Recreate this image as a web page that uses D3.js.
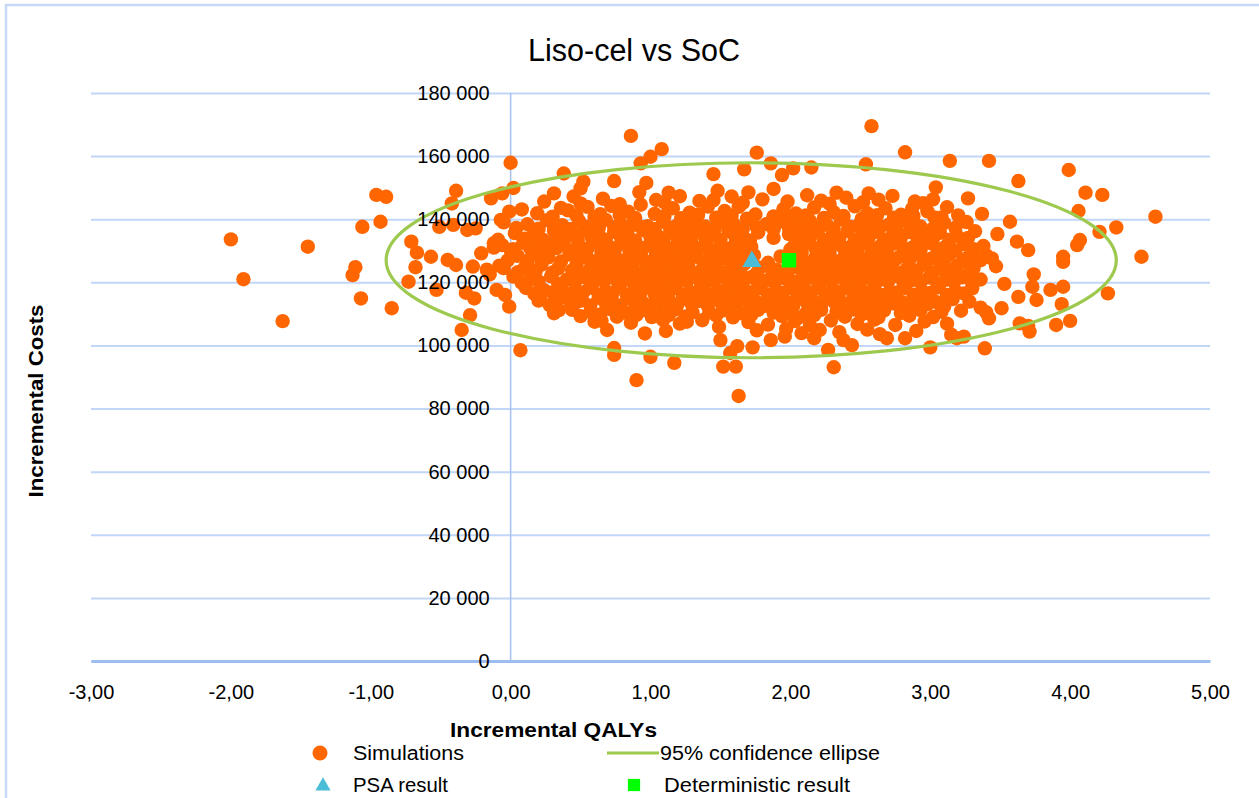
<!DOCTYPE html>
<html>
<head>
<meta charset="utf-8">
<script src="https://cdn.jsdelivr.net/npm/d3@7/dist/d3.min.js"></script>
<style>
  body { margin: 0; background: #fff; }
  svg text { font-family: "Liberation Sans", Arial, sans-serif; fill: #000; }
</style>
</head>
<body>
<div id="viz"></div>
<script>
// incremental QALYs, incremental costs (thousands)
var outliers = [
  [-2.00,133.6],[-1.91,121.0],[-1.63,107.7],[-1.45,131.3],[-1.13,122.3],[-1.11,124.8],[-1.07,114.9],[-1.06,137.6],
  [-0.96,147.7],[-0.89,147.1],[-0.93,139.2],[-0.85,111.8],[-0.71,132.9],[-0.67,129.4],[-0.68,124.8],[-0.73,120.2],
  [-0.57,128.1],[-0.53,117.6],[-0.51,137.6],[-0.45,127.1],[-0.39,125.5],[-0.39,149.0],[-0.42,145.0],[-0.41,138.2],
  [-0.29,109.6],[-0.35,104.9],[-0.32,116.7],[-0.26,114.9],[-0.27,125.0],[-0.21,129.2],[-0.31,136.6],[-0.25,137.1],
  [-0.14,146.6],[-0.06,148.2],[0.02,149.9],[0.00,157.9],[-0.17,124.0],[-0.15,122.5],[-0.10,117.6],[-0.04,116.0],
  [-0.01,112.3],[0.07,98.5],[-0.12,132.4],[-0.07,139.8],[-0.01,142.4],[0.02,130.5],[-0.02,127.0],[-0.05,124.5],
  [-0.12,131.0],[-0.09,133.5],
  [0.86,166.4],[1.08,162.2],[1.00,159.8],[0.93,157.7],[0.38,154.5],[1.76,161.1],[1.86,157.7],[2.02,156.1],
  [2.15,156.4],[1.94,154.0],[1.67,155.8],[1.45,154.3],[0.90,89.0],[1.63,84.0],[1.17,94.5],[1.00,96.4],
  [0.74,97.0],[0.74,99.2],[0.96,103.8],[0.69,104.9],[1.50,101.7],[1.57,97.6],[1.52,93.3],[1.61,93.3],
  [1.62,99.8],[1.73,99.4],[1.86,101.7],[1.96,102.8],[1.49,105.9],[0.31,110.2],[0.345,111.2],[0.48,113.9],
  [0.60,107.5],[0.21,115.4],[1.26,107.5],[1.42,110.4],[1.04,146.1],[1.13,148.4],[0.74,152.1],[0.52,151.9],
  [0.50,149.8],[0.24,145.6],[0.31,148.2],[0.36,143.6],[0.30,132.9],
  [2.58,169.5],[2.82,161.2],[3.14,158.5],[3.42,158.5],[3.99,155.6],[3.63,152.1],[2.54,157.4],[4.11,148.4],
  [4.23,147.7],[4.06,142.6],[4.61,140.8],[4.33,137.4],[4.21,136.0],[4.07,133.4],[4.05,131.8],[4.51,128.1],
  [3.95,128.1],[3.95,126.5],[4.27,116.5],[3.95,118.6],[3.86,117.6],[3.94,113.1],[4.00,107.8],[3.90,106.5],
  [3.71,104.4],[3.70,106.2],[3.64,107.0],[3.76,114.4],[3.74,122.5],[3.73,118.6],[3.63,115.4],[3.70,130.2],
  [3.62,132.9],[3.57,139.2],[3.48,135.3],[3.37,141.7],[3.39,99.1],[3.00,99.4],[3.19,102.3],[3.24,102.8],
  [2.31,93.1],[2.27,98.6],[2.38,101.7],[2.44,100.1],[2.69,102.3],[2.82,102.3],[2.17,102.3],[3.04,150.1],
  [3.02,146.3],[2.89,145.6],[3.27,146.6],[2.56,148.2],[2.33,148.4],[3.44,127.6],[3.53,119.5],[3.51,111.8],
  [3.42,108.6],[3.36,112.0],[3.40,110.5],[3.03,140.6]
];

var core = [
  [0.45,147.2],[0.66,146.5],[0.92,148.6],[0.97,151.5],[1.21,147.3],[1.35,145.8],[1.48,149.0],[1.58,147.2],
  [1.70,148.5],[1.80,146.3],[1.88,149.6],[2.12,147.6],[2.22,145.9],[2.40,146.8],[2.63,146.2],[2.73,147.4],
  [2.87,143.3],[3.12,143.8],
  [0.08,143.1],[0.19,141.9],[0.41,142.8],[0.55,143.9],[0.64,141.6],[0.72,144.2],[0.84,142.4],[0.93,144.6],
  [1.03,141.7],[1.16,143.5],[1.28,142.1],[1.41,144.0],[1.53,142.6],[1.63,143.9],[1.75,141.5],[1.95,143.2],
  [2.04,141.8],[2.17,143.7],[2.31,142.2],[2.46,144.1],[2.55,141.9],[2.68,143.5],[2.79,141.4],[2.98,142.5],
  [3.20,141.2],
  [-0.05,139.0],[0.12,138.4],[0.26,139.7],[0.37,138.1],[0.49,139.4],[0.58,137.9],[0.68,139.8],[0.79,138.3],
  [0.88,139.6],[0.98,137.8],[1.09,139.2],[1.19,138.0],[1.30,139.5],[1.39,137.7],[1.51,139.1],[1.60,138.2],
  [1.71,139.8],[1.83,138.5],[1.93,139.3],[2.06,137.6],[2.14,139.5],[2.26,138.3],[2.36,139.9],[2.48,137.9],
  [2.59,139.1],[2.70,138.2],[2.82,139.6],[2.93,137.7],[3.10,138.8],[3.26,139.1],
  [0.03,135.6],[0.16,134.9],[0.31,136.2],[0.44,135.1],[0.53,136.4],[0.63,134.8],[0.74,136.0],[0.83,135.2],
  [0.95,136.5],[1.05,134.7],[1.14,135.9],[1.24,134.6],[1.34,136.3],[1.45,135.0],[1.56,136.1],[1.66,134.5],
  [1.77,135.8],[1.99,135.3],[2.09,134.6],[2.19,136.2],[2.30,135.0],[2.41,136.3],[2.51,134.9],[2.62,136.0],
  [2.73,134.7],[2.85,135.9],[2.96,134.5],[3.07,135.7],[3.19,134.8],[3.32,136.2],
  [-0.06,131.8],[0.09,132.5],[0.21,131.3],[0.38,132.2],[0.50,131.0],[0.60,132.7],[0.70,131.4],[0.80,132.6],
  [0.90,131.1],[1.00,132.3],[1.10,131.5],[1.20,132.8],[1.29,131.2],[1.40,132.4],[1.50,131.0],[1.61,132.5],
  [1.72,131.3],[2.03,131.7],[2.13,132.6],[2.23,131.1],[2.33,132.4],[2.43,131.2],[2.53,132.7],[2.64,131.4],
  [2.75,132.3],[2.87,131.0],[2.99,132.5],[3.11,131.3],[3.24,132.1],[3.38,131.5],
  [0.05,128.4],[0.17,129.1],[0.27,127.9],[0.42,128.8],[0.55,127.7],[0.65,129.2],[0.75,128.0],[0.85,129.0],
  [0.94,127.6],[1.04,128.9],[1.13,127.8],[1.23,129.3],[1.33,128.1],[1.43,129.1],[1.53,127.6],[1.63,128.8],
  [1.74,128.6],[1.93,128.2],[2.08,129.3],[2.18,127.9],[2.28,128.9],[2.38,127.7],[2.48,129.2],[2.57,128.0],
  [2.67,129.0],[2.77,127.8],[2.89,128.7],[3.01,127.6],[3.14,128.9],[3.27,127.9],[3.40,128.6],
  [-0.08,125.3],[0.10,124.6],[0.22,125.6],[0.34,124.4],[0.47,125.4],[0.57,124.3],[0.67,125.7],[0.77,124.5],
  [0.87,125.5],[0.97,124.2],[1.07,125.6],[1.17,124.4],[1.27,125.3],[1.37,124.1],[1.47,125.5],[1.57,124.3],
  [1.67,125.8],[1.78,124.6],[1.90,124.0],[2.02,124.9],[2.12,125.8],[2.22,124.4],[2.32,125.5],[2.42,124.2],
  [2.52,125.6],[2.62,124.5],[2.72,125.4],[2.83,124.1],[2.95,125.5],[3.07,124.3],[3.19,125.2],[3.31,124.6],
  [3.47,125.1],
  [0.02,121.8],[0.14,121.0],[0.29,121.9],[0.40,120.8],[0.52,121.7],[0.62,120.9],[0.72,122.0],[0.82,121.1],
  [0.91,122.1],[1.01,120.7],[1.11,121.8],[1.21,120.9],[1.31,122.0],[1.41,120.8],[1.51,121.9],[1.61,120.6],
  [1.72,121.6],[1.83,120.5],[1.95,121.4],[2.05,120.3],[2.15,121.7],[2.25,120.8],[2.35,121.9],[2.45,120.6],
  [2.55,121.8],[2.65,120.9],[2.76,122.0],[2.87,120.7],[2.99,121.5],[3.11,120.8],[3.23,121.6],[3.36,120.9],
  [0.11,118.2],[0.24,117.5],[0.36,118.5],[0.46,117.4],[0.58,118.3],[0.68,117.2],[0.78,118.4],[0.88,117.3],
  [0.98,118.6],[1.08,117.5],[1.18,118.3],[1.28,117.1],[1.38,118.2],[1.48,117.4],[1.58,118.5],[1.68,117.3],
  [1.78,118.1],[1.89,117.0],[2.00,118.2],[2.10,117.3],[2.20,118.4],[2.30,117.2],[2.40,118.5],[2.50,117.4],
  [2.60,118.3],[2.71,117.1],[2.82,118.2],[2.94,117.3],[3.06,118.4],[3.18,117.2],[3.30,118.1],
  [0.20,114.2],[0.35,115.0],[0.51,114.3],[0.63,115.1],[0.73,114.0],[0.84,114.9],[0.94,113.8],[1.04,114.8],
  [1.14,113.9],[1.24,115.0],[1.35,114.1],[1.46,115.2],[1.56,114.0],[1.66,114.9],[1.76,113.7],[1.87,114.8],
  [1.97,113.9],[2.07,115.0],[2.17,113.8],[2.27,114.9],[2.37,113.6],[2.47,114.8],[2.58,113.9],[2.69,115.0],
  [2.80,113.7],[2.92,114.6],[3.04,113.8],[3.16,114.7],[3.28,113.9],
  [0.44,111.3],[0.57,110.6],[0.71,111.5],[0.82,110.4],[0.95,111.2],[1.06,110.3],[1.18,111.4],[1.30,110.5],
  [1.52,111.1],[1.65,110.2],[1.77,111.3],[1.88,110.4],[2.00,111.2],[2.11,110.1],[2.22,111.3],[2.33,110.5],
  [2.45,111.4],[2.56,110.2],[2.67,111.1],[2.79,110.3],[2.93,111.2],[3.08,110.7],[3.22,111.0],
  [0.65,107.8],[0.86,107.2],[1.09,108.1],[1.21,106.9],[1.37,108.0],[1.70,107.4],[1.84,106.6],[2.03,107.7],
  [2.14,106.3],[2.29,107.9],[2.48,106.8],[2.60,108.2],[2.75,106.5],[2.96,107.6],[3.12,106.9],
  [1.11,104.6],[1.76,104.8],[1.97,105.3],[2.08,103.9],[2.21,104.9],[2.35,104.2],[2.55,105.0],[2.64,103.6],
  [2.90,104.6],[3.15,103.4]
];

var coreExtra = [
  [0.50,145.0],[0.78,144.8],[1.10,145.3],[1.45,146.0],[1.66,145.2],[1.98,145.6],[2.28,144.9],[2.52,145.4],[2.95,145.1],
  [0.30,140.8],[0.47,141.2],[0.60,140.6],[0.78,141.3],[0.89,140.4],[1.10,141.0],[1.22,140.3],[1.34,141.4],[1.47,140.5],
  [1.58,141.1],[1.69,140.2],[1.88,140.9],[2.00,140.2],[2.11,141.2],[2.24,140.4],[2.38,141.0],[2.51,140.1],[2.62,141.3],
  [2.74,140.5],[2.88,141.0],[3.08,140.6],
  [0.04,137.2],[0.20,137.0],[0.31,137.6],[0.43,136.9],[0.53,137.7],[0.63,137.1],[0.74,137.5],[0.84,136.8],[0.93,137.6],
  [1.03,136.9],[1.14,137.4],[1.25,136.9],[1.35,137.8],[1.46,137.0],[1.56,137.6],[1.66,136.9],[1.76,137.5],[1.88,136.8],
  [1.99,137.2],[2.10,136.7],[2.21,137.4],[2.31,136.9],[2.42,137.7],[2.53,137.0],[2.64,137.6],[2.76,136.9],[2.88,137.5],
  [3.02,137.0],[3.18,137.3],
  [0.10,133.8],[0.23,133.5],[0.37,134.1],[0.48,133.4],[0.58,134.2],[0.68,133.5],[0.79,134.0],[0.89,133.3],[1.00,134.3],
  [1.09,133.6],[1.19,134.1],[1.29,133.4],[1.39,134.2],[1.50,133.5],[1.61,134.0],[1.71,133.3],[1.88,134.1],[2.04,133.6],
  [2.14,134.2],[2.24,133.4],[2.35,134.0],[2.46,133.3],[2.56,134.2],[2.67,133.6],[2.79,134.1],[2.91,133.4],[3.02,134.0],
  [3.14,133.5],[3.27,134.1],
  [0.00,130.3],[0.14,130.8],[0.26,130.2],[0.33,130.9],[0.45,130.1],[0.55,130.7],[0.65,130.0],[0.75,130.8],[0.85,130.2],
  [0.95,130.9],[1.05,130.1],[1.15,130.7],[1.25,130.0],[1.35,130.8],[1.45,130.1],[1.56,130.7],[1.66,130.2],[2.00,130.4],
  [2.08,130.0],[2.18,130.8],[2.28,130.2],[2.38,130.9],[2.48,130.1],[2.58,130.7],[2.69,130.2],[2.81,130.8],[2.93,130.1],
  [3.05,130.6],[3.18,130.0],[3.31,130.5],
  [0.12,126.8],[0.22,127.3],[0.36,126.6],[0.49,127.4],[0.60,126.5],[0.70,127.2],[0.80,126.6],[0.90,127.3],[0.99,126.4],
  [1.09,127.1],[1.19,126.7],[1.28,127.4],[1.38,126.5],[1.48,127.2],[1.58,126.6],[1.66,127.5],[1.84,126.2],[2.06,127.0],
  [2.15,126.4],[2.25,127.3],[2.35,126.6],[2.45,127.4],[2.54,126.5],[2.64,127.2],[2.74,126.7],[2.85,127.1],[2.97,126.5],
  [3.10,127.2],[3.23,126.6],[3.36,127.0],
  [0.05,123.2],[0.18,123.7],[0.30,123.1],[0.44,123.8],[0.54,123.0],[0.64,123.6],[0.74,123.1],[0.84,123.8],[0.94,123.0],
  [1.04,123.7],[1.14,123.2],[1.24,123.9],[1.34,123.0],[1.44,123.6],[1.54,123.1],[1.64,123.7],[1.76,122.9],[1.87,123.5],
  [1.98,123.0],[2.08,123.8],[2.18,123.1],[2.28,123.7],[2.38,123.0],[2.48,123.8],[2.58,123.2],[2.68,123.6],[2.79,123.0],
  [2.90,123.7],[3.02,123.1],[3.15,123.6],[3.28,123.0],
  [0.08,119.8],[0.20,120.3],[0.34,119.6],[0.46,120.2],[0.57,119.7],[0.67,120.4],[0.77,119.6],[0.87,120.3],[0.96,119.5],
  [1.06,120.2],[1.16,119.7],[1.26,120.4],[1.36,119.6],[1.46,120.3],[1.56,119.5],[1.66,120.1],[1.77,119.6],[1.89,120.2],
  [2.00,119.5],[2.10,120.3],[2.20,119.7],[2.30,120.4],[2.40,119.6],[2.50,120.2],[2.60,119.5],[2.70,120.3],[2.81,119.7],
  [2.93,120.2],[3.05,119.6],[3.17,120.1],[3.30,119.6],
  [0.17,116.3],[0.30,116.8],[0.41,116.2],[0.52,116.9],[0.63,116.1],[0.73,116.7],[0.83,116.0],[0.93,116.8],[1.03,116.2],
  [1.13,116.9],[1.23,116.1],[1.33,116.7],[1.43,116.0],[1.53,116.8],[1.63,116.2],[1.73,116.9],[1.84,116.1],[1.94,116.7],
  [2.05,116.0],[2.15,116.8],[2.25,116.2],[2.35,116.9],[2.45,116.1],[2.55,116.7],[2.65,116.0],[2.76,116.8],[2.88,116.1],
  [3.00,116.6],[3.12,116.0],[3.24,116.5],
  [0.28,112.8],[0.43,113.3],[0.57,112.7],[0.68,113.4],[0.78,112.6],[0.89,113.2],[0.99,112.5],[1.09,113.3],[1.19,112.7],
  [1.29,113.4],[1.41,112.6],[1.51,113.2],[1.61,112.5],[1.71,113.3],[1.82,112.6],[1.92,113.2],[2.02,112.5],[2.12,113.3],
  [2.22,112.7],[2.32,113.4],[2.42,112.6],[2.52,113.2],[2.63,112.5],[2.74,113.3],[2.86,112.7],[2.98,113.1],[3.10,112.4],
  [0.50,109.3],[0.64,109.8],[0.76,109.1],[0.90,109.7],[1.01,109.0],[1.13,109.6],[1.25,109.2],[1.47,109.5],[1.59,108.9],
  [1.72,109.7],[1.94,109.3],[2.06,108.8],[2.17,109.6],[2.39,109.1],[2.51,109.8],[2.63,108.9],[2.85,109.4],[3.02,109.0]
];

var psaResult = [1.725, 126.6];
var deterministicResult = [1.99, 127.0];
var ellipseCentre = [1.72, 127.0];
var ellipseRadii = [2.61, 30.9];

var xTicks = [-3, -2, -1, 0, 1, 2, 3, 4, 5];
var yTicks = [0, 20, 40, 60, 80, 100, 120, 140, 160, 180];

var W = 1259, H = 798;
var plot = {left: 91, right: 1210, top: 93, bottom: 661};

var svg = d3.select("#viz")
    .append("svg")
    .attr("width", W)
    .attr("height", H);

// chart area border
svg.append("rect")
    .attr("x", 6).attr("y", 5)
    .attr("width", W + 20).attr("height", H + 20)
    .attr("fill", "none")
    .attr("stroke", "#c6d9f8")
    .attr("stroke-width", 2.5);

var x = d3.scaleLinear().domain([-3, 5]).range([plot.left, plot.right]);
var y = d3.scaleLinear().domain([0, 180]).range([plot.bottom, plot.top]);

var loc = d3.formatLocale({decimal: ",", thousands: " ", grouping: [3], currency: ["", ""], minus: "-"});
var fmtX = loc.format(".2f");
var fmtY = loc.format(",.0f");

// horizontal gridlines
var grid = svg.append("g")
    .attr("transform", "translate(" + plot.left + ",0)")
    .call(d3.axisLeft(y).tickValues(yTicks).tickSize(-(plot.right - plot.left)).tickFormat(""));
grid.select(".domain").remove();
grid.selectAll("line").attr("stroke", "#c2d6f8").attr("stroke-width", 2);

// vertical axis line at x = 0
svg.append("line")
    .attr("x1", x(0)).attr("x2", x(0))
    .attr("y1", y(180)).attr("y2", y(0))
    .attr("stroke", "#a9c4f4")
    .attr("stroke-width", 1.6);

// simulations
svg.append("g")
    .selectAll("circle")
    .data(outliers.concat(core, coreExtra))
    .enter()
    .append("circle")
    .attr("cx", function (d) { return x(d[0]); })
    .attr("cy", function (d) { return y(d[1]); })
    .attr("r", 7.2)
    .attr("fill", "#ff6600");

// 95% confidence ellipse
svg.append("ellipse")
    .attr("cx", x(ellipseCentre[0]))
    .attr("cy", y(ellipseCentre[1]))
    .attr("rx", x(ellipseCentre[0] + ellipseRadii[0]) - x(ellipseCentre[0]))
    .attr("ry", y(ellipseCentre[1] - ellipseRadii[1]) - y(ellipseCentre[1]))
    .attr("fill", "none")
    .attr("stroke", "#9dc94f")
    .attr("stroke-width", 3.2);

// PSA and deterministic results
svg.append("path")
    .attr("d", d3.symbol().type(d3.symbolTriangle).size(160)())
    .attr("transform", "translate(" + x(psaResult[0]) + "," + y(psaResult[1]) + ")")
    .attr("fill", "#4bbdd7");
svg.append("path")
    .attr("d", d3.symbol().type(d3.symbolSquare).size(210)())
    .attr("transform", "translate(" + x(deterministicResult[0]) + "," + y(deterministicResult[1]) + ")")
    .attr("fill", "#00ff00");

// x axis (line at cost 0 with labels)
var xAxis = svg.append("g")
    .attr("transform", "translate(0," + y(0) + ")")
    .call(d3.axisBottom(x).tickValues(xTicks).tickSize(0).tickPadding(24).tickFormat(fmtX));
xAxis.select(".domain").attr("stroke", "#9dbcf0").attr("stroke-width", 3);
xAxis.selectAll("text").attr("font-size", 20).attr("font-family", "Liberation Sans, Arial, sans-serif");

// y axis labels
var yAxis = svg.append("g")
    .attr("transform", "translate(" + x(0) + ",0)")
    .call(d3.axisLeft(y).tickValues(yTicks).tickSize(0).tickPadding(21)
        .tickFormat(function (d) { return fmtY(d * 1000); }));
yAxis.select(".domain").remove();
yAxis.selectAll("text").attr("font-size", 20).attr("font-family", "Liberation Sans, Arial, sans-serif");

// titles
svg.append("text")
    .attr("x", 528).attr("y", 61)
    .attr("font-size", 31)
    .attr("textLength", 212)
    .attr("lengthAdjust", "spacingAndGlyphs")
    .text("Liso-cel vs SoC");

svg.append("text")
    .attr("x", 450).attr("y", 737)
    .attr("font-size", 20)
    .attr("font-weight", "bold")
    .attr("textLength", 207)
    .attr("lengthAdjust", "spacingAndGlyphs")
    .text("Incremental QALYs");

svg.append("text")
    .attr("transform", "translate(43,401) rotate(-90)")
    .attr("text-anchor", "middle")
    .attr("font-size", 20)
    .attr("font-weight", "bold")
    .attr("textLength", 193)
    .attr("lengthAdjust", "spacingAndGlyphs")
    .text("Incremental Costs");

// legend
var legend = svg.append("g");
legend.append("circle").attr("cx", 320).attr("cy", 753).attr("r", 7.5).attr("fill", "#ff6600");
legend.append("line").attr("x1", 607).attr("x2", 659).attr("y1", 753).attr("y2", 753)
    .attr("stroke", "#9dc94f").attr("stroke-width", 3.2);
legend.append("path")
    .attr("d", d3.symbol().type(d3.symbolTriangle).size(100)())
    .attr("transform", "translate(323,786)")
    .attr("fill", "#4bbdd7");
legend.append("path")
    .attr("d", d3.symbol().type(d3.symbolSquare).size(150)())
    .attr("transform", "translate(634,785)")
    .attr("fill", "#00ff00");

var legendLabels = [
    {text: "Simulations", x: 353, y: 760, len: 111},
    {text: "95% confidence ellipse", x: 660, y: 760, len: 220},
    {text: "PSA result", x: 353, y: 792, len: 95},
    {text: "Deterministic result", x: 664, y: 792, len: 186}
];
legend.selectAll("text.lab")
    .data(legendLabels)
    .enter()
    .append("text")
    .attr("class", "lab")
    .attr("x", function (d) { return d.x; })
    .attr("y", function (d) { return d.y; })
    .attr("font-size", 20)
    .attr("textLength", function (d) { return d.len; })
    .attr("lengthAdjust", "spacingAndGlyphs")
    .text(function (d) { return d.text; });
</script>
</body>
</html>
